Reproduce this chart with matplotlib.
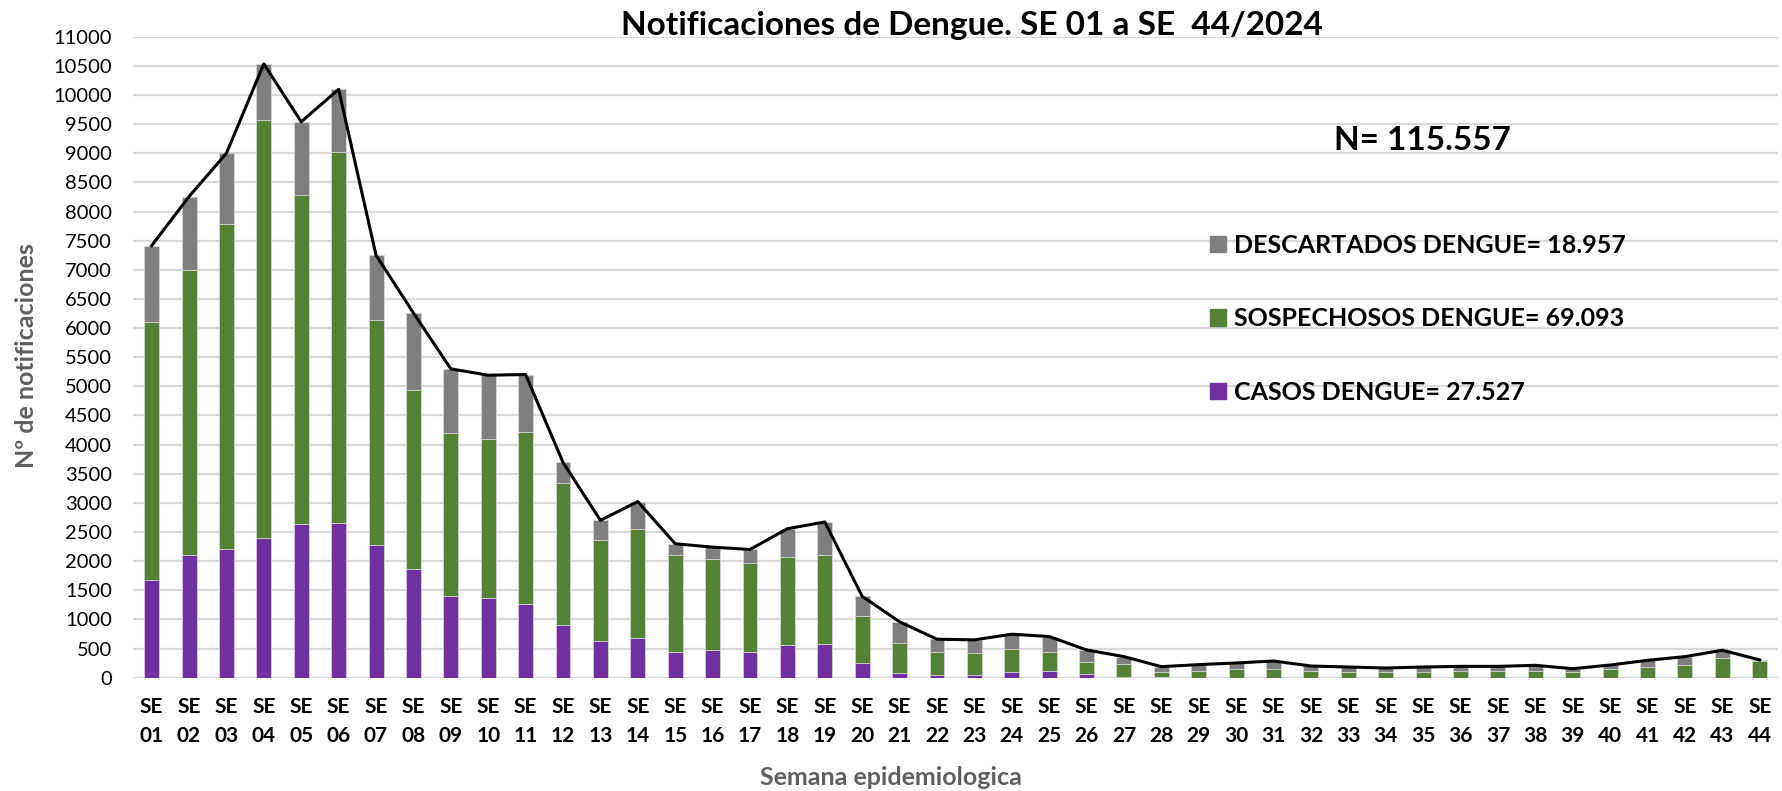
import matplotlib
matplotlib.use("Agg")
import matplotlib.pyplot as plt
import matplotlib.patches as mpatches
import numpy as np

plt.rcParams['font.family'] = ['Lato', 'DejaVu Sans']

# semanas epidemiologicas
weeks = [f"{i:02d}" for i in range(1, 45)]

# casos confirmados por semana
casos = [1684, 2103, 2213, 2397, 2644, 2649, 2276, 1862, 1397, 1368, 1264, 897,
         633, 690, 443, 483, 448, 558, 575, 259, 75, 52, 46, 98, 121, 69,
         15, 5, 3, 3, 3, 2, 2, 2, 2, 2, 2, 2, 2, 2, 2, 2, 2, 2]

# sospechosos por semana
sospechosos = [4413, 4886, 5573, 7166, 5647, 6380, 3855, 3069, 2804, 2730, 2954, 2442,
               1729, 1867, 1660, 1551, 1518, 1511, 1528, 793, 529, 385, 385, 402, 316, 207,
               215, 93, 107, 141, 152, 113, 102, 96, 102, 119, 113, 119, 96, 153, 188, 211,
               343, 291]

# descartados por semana
descartados = [1317, 1268, 1214, 971, 1249, 1068, 1120, 1329, 1099, 1093, 985, 356,
               339, 466, 196, 207, 235, 488, 570, 345, 356, 224, 219, 247, 270, 201,
               132, 92, 115, 109, 132, 86, 80, 69, 80, 74, 80, 92, 57, 63, 109, 149,
               127, 12]

legend_labels = ['DESCARTADOS DENGUE= 18.957',
                 'SOSPECHOSOS DENGUE= 69.093',
                 'CASOS DENGUE= 27.527']
total_label = 'N= 115.557'

C_CASOS = '#7030A0'
C_SOSP = '#538135'
C_DESC = '#7F7F7F'
C_LABEL = '#5f5f5f'


def plot_notificaciones():
    x = np.arange(len(weeks))
    casos_a = np.array(casos)
    sosp_a = np.array(sospechosos)
    desc_a = np.array(descartados)
    total = casos_a + sosp_a + desc_a

    fig = plt.figure(figsize=(17.82, 7.91), dpi=100)
    ax = fig.add_axes([0.0746, 0.1432, 0.9234, 0.8104])

    w = 0.4
    ax.bar(x, casos_a, w, color=C_CASOS, edgecolor='#d9d9d9', linewidth=0.5, zorder=2)
    ax.bar(x, sosp_a, w, bottom=casos_a, color=C_SOSP, edgecolor='#d9d9d9', linewidth=0.5, zorder=2)
    ax.bar(x, desc_a, w, bottom=casos_a + sosp_a, color=C_DESC, edgecolor='#d9d9d9',
           linewidth=0.5, zorder=2)

    # linea del total
    ax.plot(x, total, color='black', linewidth=2.2, zorder=3)

    ax.set_xlim(-0.5, len(weeks) - 0.5)
    ax.set_ylim(0, 11000)
    ax.set_yticks(np.arange(0, 11001, 500))
    ax.yaxis.grid(True, color='#d9d9d9', linewidth=1.6, zorder=0)
    ax.set_axisbelow(True)
    for s in ax.spines.values():
        s.set_visible(False)

    ax.set_xticks(x)
    ax.set_xticklabels([f"SE\n{w_}" for w_ in weeks], fontsize=15, fontweight='bold',
                       linespacing=1.55)
    ax.tick_params(axis='x', length=0, pad=14)
    ax.tick_params(axis='y', length=0, pad=15, labelsize=14.5)

    fig.text(0.5455, 0.968, 'Notificaciones de Dengue. SE 01 a SE  44/2024',
             ha='center', va='center', fontsize=24, fontweight='bold')
    fig.text(0.015, 0.551, 'Nº de notificaciones', rotation=90, ha='center', va='center',
             fontsize=18, fontweight='bold', color=C_LABEL)
    fig.text(0.5, 0.017, 'Semana epidemiologica', ha='center', va='center',
             fontsize=18, fontweight='bold', color=C_LABEL)
    fig.text(0.798, 0.823, total_label, ha='center', va='center',
             fontsize=24, fontweight='bold')

    handles = [mpatches.Patch(color=c) for c in (C_DESC, C_SOSP, C_CASOS)]
    fig.legend(handles, legend_labels, loc='upper left',
               bbox_to_anchor=(0.672, 0.72), frameon=False,
               prop={'size': 18, 'weight': 'bold'},
               handlelength=0.64, handleheight=0.64, handletextpad=0.3,
               labelspacing=2.02, borderpad=0)

    fig.savefig('out.png', dpi=100)


if __name__ == "__main__":
    plot_notificaciones()
